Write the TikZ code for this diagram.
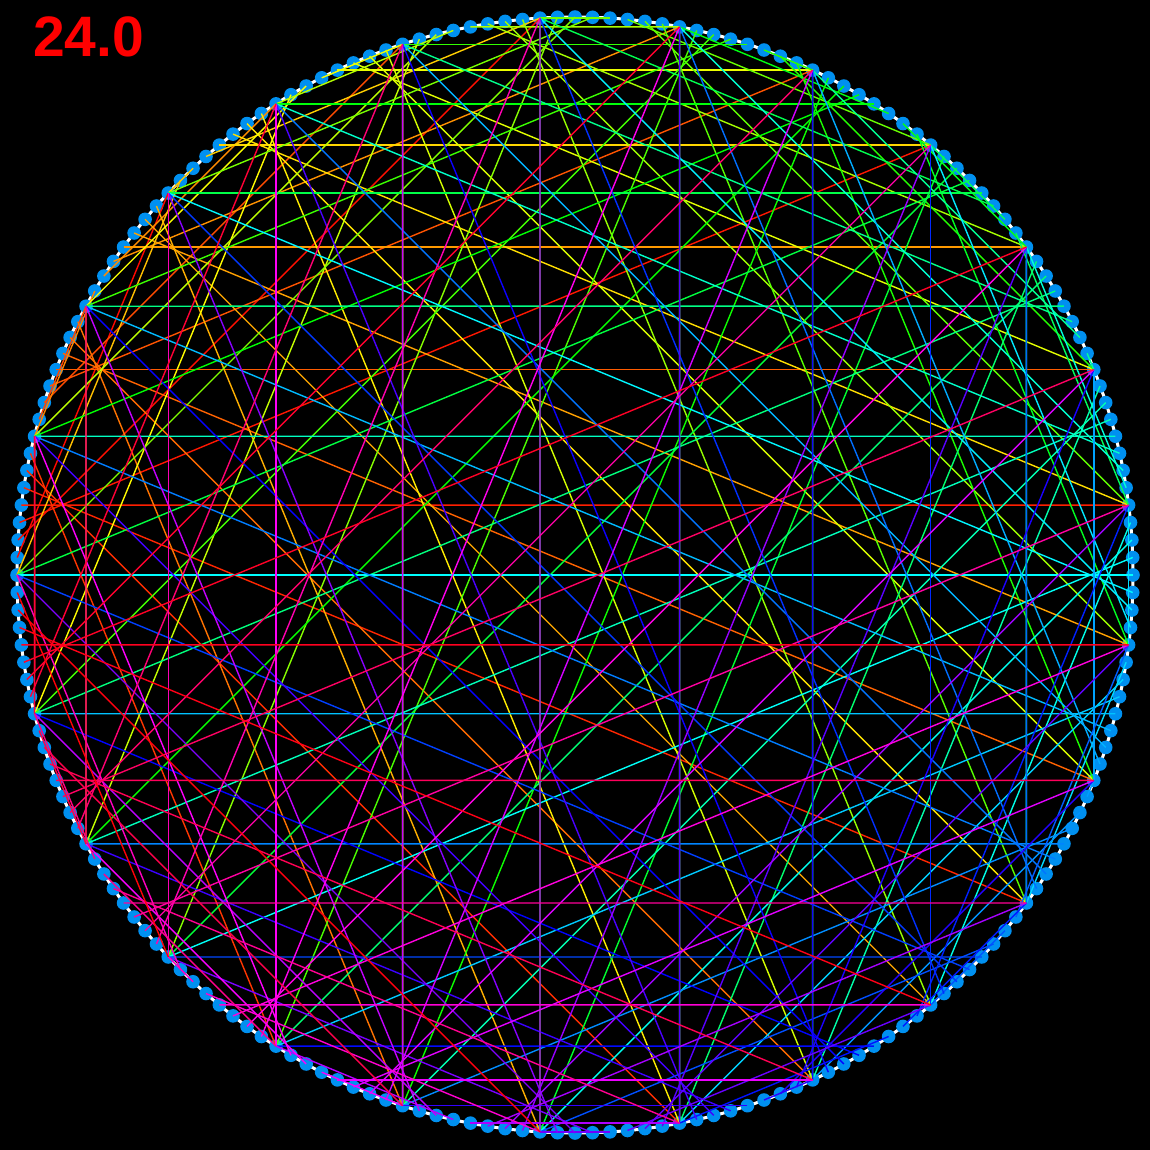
\documentclass[tikz,border=0pt]{standalone}
\usepackage{fontspec}
\setmainfont{Liberation Sans}
\definecolor{dotblue}{RGB}{0,144,240}
\definecolor{titlered}{RGB}{255,0,0}
\tikzset{
  rim/.style={draw=white, line width=3pt},
  pin/.style={fill=dotblue},
  chord/.style={line width=1.4pt},
  title/.style={text=titlered, inner sep=0pt, anchor=base west, font=\bfseries\fontsize{57}{62}\selectfont}
}
\begin{document}
\begin{tikzpicture}[x=1pt,y=-1pt]
\fill[black] (0,0) rectangle (1150,1150);
\useasboundingbox (0,0) rectangle (1150,1150);
\coordinate (ctr) at (575,575);
\foreach \i in {0,...,199}{
  \coordinate (p\i) at ({575-558*cos(1.8*\i)},{575-558*sin(1.8*\i)});
}
\draw[rim] (ctr) circle[radius=558];
\foreach \i in {0,...,199}{
  \fill[pin] (p\i) circle[radius=6.8];
}
\foreach \i in {1,...,199}{
  \pgfmathtruncatemacro{\j}{mod(24*\i,200)}
  \pgfmathsetmacro{\h}{\i/200}
  \convertcolorspec{hsb}{\h,1,1}{rgb}\myrgb
  \definecolor{lc}{rgb}{\myrgb}
  \draw[chord, draw=lc] (p\i) -- (p\j);
}
\node[title] (label) at (33,57) {24.0};
\end{tikzpicture}
\end{document}
